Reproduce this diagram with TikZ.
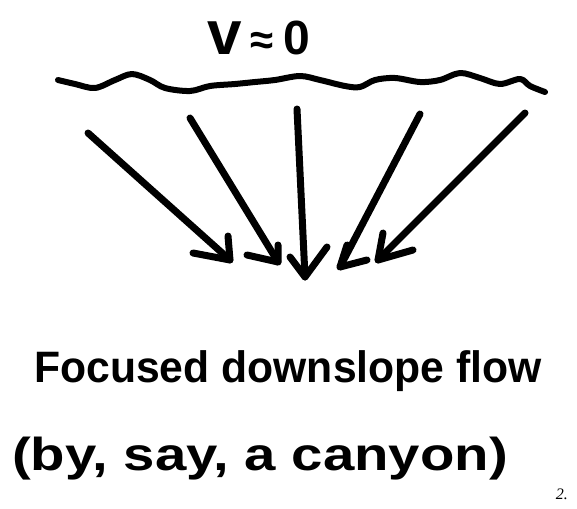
\documentclass[tikz,border=0pt]{standalone}
\usepackage{fontspec}
\setmainfont{Liberation Sans}
\newfontfamily\pgserif{Liberation Serif}
\begin{document}
\begin{tikzpicture}[x=1pt,y=-1pt,
  stroke/.style={line width=7pt,line cap=round,line join=round},
  label/.style={inner sep=0pt,font=\bfseries}]
\useasboundingbox (0,0) rectangle (577,508);
% title
\node[label,anchor=base] (title) at (259,55)
  {{\fontsize{62}{62}\selectfont v}\hspace{9pt}{\fontsize{42}{42}\selectfont ≈}\hspace{10pt}{\fontsize{48}{48}\selectfont 0}};
% wavy surface
\draw[stroke,line width=6pt] plot[smooth,tension=0.55] coordinates {
 (58,80) (75,84) (95,88) (115,80) (132,74) (150,80) (165,88) (190,91) (210,86) (235,84)
 (255,82) (275,80) (300,76) (320,80) (345,86) (360,87) (375,80) (395,78) (420,82) (440,80) (460,73)
 (480,78) (500,84) (520,79) (530,86) (545,92)};
% arrows
\foreach \sx/\sy/\tx/\ty/\ax/\ay/\bx/\by [count=\i] in {
  88/133/230/260/193/253/228/236,
  190/118/278/262/247/255/278/245,
  297/109/305/277/290/257/327/247,
  420/114/340/267/367/260/347/245,
  525/113/378/260/413/250/383/233}{
  \coordinate (s\i) at (\sx,\sy);
  \coordinate (t\i) at (\tx,\ty);
  \coordinate (a\i) at (\ax,\ay);
  \coordinate (b\i) at (\bx,\by);
  \draw[stroke] (s\i) -- (t\i);
  \draw[stroke] (a\i) -- (t\i) -- (b\i);
}
% texts
\node[label,anchor=base] (focus) at (288,382)
  {\scalebox{0.97}[1]{\fontsize{44}{48}\selectfont Focused downslope flow}};
\node[label,anchor=base] (canyon) at (260,470)
  {\scalebox{1.28}[1.05]{\fontsize{44}{48}\selectfont (by, say, a canyon)}};
\node[inner sep=0pt,font=\pgserif\itshape\fontsize{16}{18}\selectfont,anchor=south east] (pg) at (568,500) {2.};
\end{tikzpicture}
\end{document}
